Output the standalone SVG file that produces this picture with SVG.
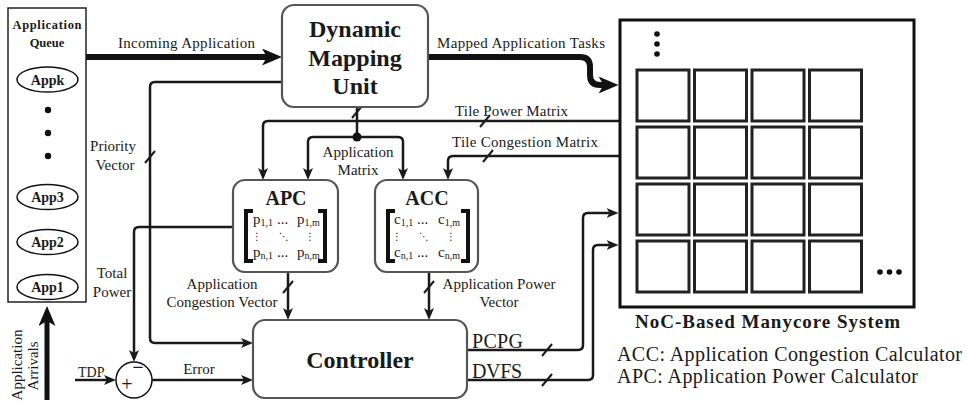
<svg xmlns="http://www.w3.org/2000/svg" width="967" height="401" viewBox="0 0 967 401">
<style>
.t{font-family:"Liberation Serif","Times New Roman",serif;font-size:15px;fill:#1a1a1a}
.b{font-weight:bold}
.m{text-anchor:middle}
.ln{fill:none;stroke:#1a1a1a;stroke-width:2.5}
.thk{fill:none;stroke:#111;stroke-width:6}
.sl{fill:none;stroke:#1a1a1a;stroke-width:2}
.box{fill:#fff;stroke:#555;stroke-width:2.2}
.tile{fill:#fff;stroke:#222;stroke-width:3}
.br{fill:none;stroke:#111;stroke-width:4}
.dot{fill:#111}
.sub{font-size:10px}
.vd{font-family:"DejaVu Sans",sans-serif;font-size:10px;text-anchor:middle;fill:#1a1a1a}
.app{font-size:14px}
.arr{font-size:15px}
.dmu{font-size:24px}
.hd{font-size:20px}
.big{font-size:20px}
</style>
<defs>
<marker id="a" markerUnits="userSpaceOnUse" markerWidth="12" markerHeight="10" refX="3" refY="5" orient="auto"><path d="M0,0 L12,5 L0,10 L3,5 z" fill="#1a1a1a"/></marker>
<marker id="A" markerUnits="userSpaceOnUse" markerWidth="20" markerHeight="17" refX="5" refY="8.5" orient="auto"><path d="M0,0 L20,8.5 L0,17 L5,8.5 z" fill="#111"/></marker>
</defs>

<g id="connectors">
<path class="thk" d="M86 57 H267" marker-end="url(#A)"/>
<path class="thk" d="M428 57 H580 Q590 57 590 67 V75 Q590 85 600 85 H603.5" stroke-linecap="round" marker-end="url(#A)"/>
<path class="thk" d="M47 400 V321" style="stroke-width:5" marker-end="url(#A)"/>
<path class="ln" d="M620 121 H268 Q263 121 263 126 V171" marker-end="url(#a)"/>
<path class="ln" d="M620 156 H453 Q448 156 448 161 V171" marker-end="url(#a)"/>
<path class="ln" d="M357 107 V137"/>
<path class="ln" d="M357 137 H313 Q308 137 308 142 V171" marker-end="url(#a)"/>
<path class="ln" d="M357 137 H398 Q403 137 403 142 V171" marker-end="url(#a)"/>
<circle class="dot" cx="357" cy="137" r="4.5"/>
<path class="ln" d="M282 82 H155 Q150 82 150 87 V338 Q150 343 155 343 H244" marker-end="url(#a)"/>
<path class="ln" d="M238 227 H139 Q134 227 134 232 V353" marker-end="url(#a)"/>
<path class="ln" d="M75 380 H107" marker-end="url(#a)"/>
<path class="ln" d="M152 380 H244" marker-end="url(#a)"/>
<path class="ln" d="M288 272 V311" marker-end="url(#a)"/>
<path class="ln" d="M429 272 V311" marker-end="url(#a)"/>
<path class="ln" d="M467 350 H578 Q583 350 583 345 V218 Q583 213 588 213 H609.5" marker-end="url(#a)"/>
<path class="ln" d="M467 380 H588 Q593 380 593 375 V250 Q593 245 598 245 H609.5" marker-end="url(#a)"/>
<path class="sl" d="M145 163 L155 151"/>
<path class="sl" d="M480 127 L490 115"/>
<path class="sl" d="M483 162 L493 150"/>
<path class="sl" d="M352 118 L362 106"/>
<path class="sl" d="M283 293 L293 281"/>
<path class="sl" d="M424 293 L434 281"/>
<path class="sl" d="M542 356 L552 344"/>
<path class="sl" d="M542 386 L552 374"/>
</g>

<g id="queue">
<rect x="8" y="8" width="78" height="294" fill="#fff" stroke="#222" stroke-width="1.5"/>
<text class="t b m" x="47" y="29" style="font-size:12.5px" textLength="69" lengthAdjust="spacing">Application</text>
<text class="t b m" x="47" y="47" style="font-size:12.5px">Queue</text>
<ellipse cx="47.5" cy="79.5" rx="30.5" ry="12.5" fill="#fff" stroke="#111" stroke-width="1.5"/>
<text class="t b m app" x="47.5" y="84.5">Appk</text>
<circle class="dot" cx="48" cy="110" r="3.2"/>
<circle class="dot" cx="48" cy="133" r="3.2"/>
<circle class="dot" cx="48" cy="156" r="3.2"/>
<ellipse cx="47.5" cy="197" rx="30.5" ry="12.5" fill="#fff" stroke="#111" stroke-width="1.5"/>
<text class="t b m app" x="47.5" y="202">App3</text>
<ellipse cx="47.5" cy="242" rx="30.5" ry="12.5" fill="#fff" stroke="#111" stroke-width="1.5"/>
<text class="t b m app" x="47.5" y="247">App2</text>
<ellipse cx="47.5" cy="287" rx="30.5" ry="12.5" fill="#fff" stroke="#111" stroke-width="1.5"/>
<text class="t b m app" x="47.5" y="292">App1</text>
</g>

<g id="arrivals">
<text class="t m arr" transform="translate(22,365) rotate(-90)">Application</text>
<text class="t m arr" transform="translate(38,366) rotate(-90)">Arrivals</text>
</g>

<g id="dmu">
<rect class="box" x="282" y="5" width="146" height="102" rx="12"/>
<text class="t b m dmu" x="355" y="37">Dynamic</text>
<text class="t b m dmu" x="355" y="66">Mapping</text>
<text class="t b m dmu" x="355" y="94">Unit</text>
</g>

<g id="apc">
<rect class="box" x="233" y="180" width="105" height="92" rx="12"/>
<text class="t b m hd" x="286" y="205">APC</text>
<path class="br" d="M253 211 H246 V261 H253"/>
<path class="br" d="M318 211 H325 V261 H318"/>
<text class="t" x="253" y="224">p<tspan class="sub" dy="2">1,1</tspan></text>
<text class="t" x="277" y="224">...</text>
<text class="t" x="297" y="224">p<tspan class="sub" dy="2">1,m</tspan></text>
<text class="t" x="253" y="257">p<tspan class="sub" dy="2">n,1</tspan></text>
<text class="t" x="277" y="257">...</text>
<text class="t" x="297" y="257">p<tspan class="sub" dy="2">n,m</tspan></text>
<text class="vd" x="257" y="240">⋮</text>
<text class="vd" x="310" y="240">⋮</text>
<text class="vd" x="284" y="240">⋱</text>
</g>

<g id="acc">
<rect class="box" x="375" y="180" width="103" height="92" rx="12"/>
<text class="t b m hd" x="427" y="205">ACC</text>
<path class="br" d="M395 211 H388 V261 H395"/>
<path class="br" d="M461 211 H468 V261 H461"/>
<text class="t" x="394" y="224">c<tspan class="sub" dy="2">1,1</tspan></text>
<text class="t" x="417" y="224">...</text>
<text class="t" x="438" y="224">c<tspan class="sub" dy="2">1,m</tspan></text>
<text class="t" x="394" y="257">c<tspan class="sub" dy="2">n,1</tspan></text>
<text class="t" x="417" y="257">...</text>
<text class="t" x="438" y="257">c<tspan class="sub" dy="2">n,m</tspan></text>
<text class="vd" x="397" y="240">⋮</text>
<text class="vd" x="451" y="240">⋮</text>
<text class="vd" x="424" y="240">⋱</text>
</g>

<g id="controller">
<rect class="box" x="253" y="320" width="214" height="78" rx="12"/>
<text class="t b m dmu" x="360" y="368">Controller</text>
</g>

<g id="sum">
<circle cx="134" cy="380" r="18" fill="#fff" stroke="#111" stroke-width="1.5"/>
<text class="t m big" x="127" y="391">+</text>
<text class="t b m big" x="138" y="374">−</text>
</g>

<g id="noc">
<rect x="620" y="20" width="294" height="287" fill="#fff" stroke="#111" stroke-width="3"/>
<circle class="dot" cx="657" cy="34" r="2.8"/>
<circle class="dot" cx="657" cy="44" r="2.8"/>
<circle class="dot" cx="657" cy="54" r="2.8"/>
<rect class="tile" x="637" y="70" width="52" height="51"/>
<rect class="tile" x="694.5" y="70" width="52" height="51"/>
<rect class="tile" x="752" y="70" width="52" height="51"/>
<rect class="tile" x="809.5" y="70" width="52" height="51"/>
<rect class="tile" x="637" y="127" width="52" height="51"/>
<rect class="tile" x="694.5" y="127" width="52" height="51"/>
<rect class="tile" x="752" y="127" width="52" height="51"/>
<rect class="tile" x="809.5" y="127" width="52" height="51"/>
<rect class="tile" x="637" y="184" width="52" height="51"/>
<rect class="tile" x="694.5" y="184" width="52" height="51"/>
<rect class="tile" x="752" y="184" width="52" height="51"/>
<rect class="tile" x="809.5" y="184" width="52" height="51"/>
<rect class="tile" x="637" y="241" width="52" height="51"/>
<rect class="tile" x="694.5" y="241" width="52" height="51"/>
<rect class="tile" x="752" y="241" width="52" height="51"/>
<rect class="tile" x="809.5" y="241" width="52" height="51"/>
<circle class="dot" cx="880" cy="272" r="2.8"/>
<circle class="dot" cx="889.5" cy="272" r="2.8"/>
<circle class="dot" cx="899" cy="272" r="2.8"/>
<text class="t b" x="635" y="328" style="font-size:19px" textLength="265" lengthAdjust="spacing">NoC-Based Manycore System</text>
</g>

<g id="labels">
<text class="t" x="118" y="48" textLength="137" lengthAdjust="spacing">Incoming Application</text>
<text class="t" x="437" y="48" textLength="168" lengthAdjust="spacing">Mapped Application Tasks</text>
<text class="t" x="455" y="116" textLength="113" lengthAdjust="spacing">Tile Power Matrix</text>
<text class="t" x="452" y="147" textLength="146" lengthAdjust="spacing">Tile Congestion Matrix</text>
<text class="t m" x="358" y="157">Application</text>
<text class="t m" x="358" y="175">Matrix</text>
<text class="t m" x="113" y="151">Priority</text>
<text class="t m" x="115" y="170">Vector</text>
<text class="t m" x="112" y="278">Total</text>
<text class="t m" x="112" y="297">Power</text>
<text class="t m" x="222" y="289">Application</text>
<text class="t m" x="222" y="307">Congestion Vector</text>
<text class="t m" x="499" y="289">Application Power</text>
<text class="t m" x="499" y="307">Vector</text>
<text class="t app" x="78" y="377">TDP</text>
<text class="t m" x="199" y="374">Error</text>
<text class="t big" x="472" y="348" textLength="51" lengthAdjust="spacing">PCPG</text>
<text class="t big" x="472" y="378" textLength="50" lengthAdjust="spacing">DVFS</text>
<text class="t big" x="617" y="361" textLength="345" lengthAdjust="spacing">ACC: Application Congestion Calculator</text>
<text class="t big" x="617" y="383" textLength="301" lengthAdjust="spacing">APC: Application Power Calculator</text>
</g>
</svg>
